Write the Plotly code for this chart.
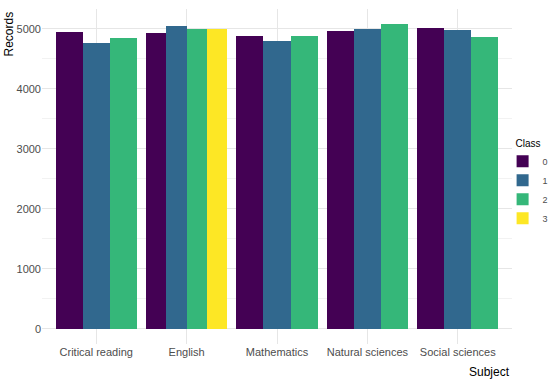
import plotly.graph_objects as go

subjects = ["Critical reading", "English", "Mathematics", "Natural sciences", "Social sciences"]
classes = ["0", "1", "2", "3"]
colors = ["#440154", "#31688E", "#35B779", "#FDE725"]

# records per class for each subject (None = class absent)
class0 = [4955, 4938, 4878, 4967, 5011]
class1 = [4761, 5055, 4805, 5005, 4983]
class2 = [4855, 4995, 4883, 5078, 4861]
class3 = [None, 4995, None, None, None]
series = [class0, class1, class2, class3]

FONT = "Liberation Sans, Arial, sans-serif"

# number of classes present per subject (ggplot dodge behaviour)
n_present = [sum(1 for s in series if s[i] is not None) for i in range(len(subjects))]
group_w = 0.9

fig = go.Figure()
for k, (cls, vals, col) in enumerate(zip(classes, series, colors)):
    xs, ys, ws, offs = [], [], [], []
    for i, v in enumerate(vals):
        if v is None:
            continue
        n = n_present[i]
        pos = sum(1 for j in range(k) if series[j][i] is not None)
        bw = group_w / n
        xs.append(subjects[i])
        ys.append(v)
        ws.append(bw)
        offs.append(-group_w / 2 + pos * bw)
    fig.add_trace(go.Bar(x=xs, y=ys, width=ws, offset=offs, name=cls,
                         marker=dict(color=col, line=dict(width=0))))

fig.update_layout(
    width=550, height=385,
    barmode="overlay",
    plot_bgcolor="white", paper_bgcolor="white",
    margin=dict(l=42, r=38, t=9, b=41, autoexpand=False),
    font=dict(family=FONT, size=11, color="#4d4d4d"),
    legend=dict(title=dict(text="Class", side="top center", font=dict(size=10, color="black")),
                font=dict(size=9, color="#4d4d4d"),
                x=0.98, xanchor="left", y=0.48, yanchor="middle",
                itemwidth=30, tracegroupgap=0, bgcolor="rgba(0,0,0,0)"),
    bargap=0,
)
fig.update_xaxes(type="category", categoryorder="array", categoryarray=subjects,
                 range=[-0.6, 4.6], showgrid=True, gridcolor="#e6e6e6", gridwidth=1,
                 showline=False, zeroline=False, ticks="", tickangle=0, automargin=False,
                 tickfont=dict(size=11, color="#4d4d4d"))
fig.update_yaxes(range=[-254, 5332], tickvals=[0, 1000, 2000, 3000, 4000, 5000],
                 showgrid=True, gridcolor="#e6e6e6", gridwidth=1,
                 minor=dict(tickvals=[500, 1500, 2500, 3500, 4500], showgrid=True, gridcolor="#f2f2f2", gridwidth=1),
                 zeroline=False, showline=False, ticks="", automargin=False,
                 tickfont=dict(size=11, color="#4d4d4d"))

fig.add_annotation(text="Records", xref="paper", yref="paper", x=0, y=1, xanchor="right", yanchor="top",
                   xshift=-25, yshift=-1, textangle=-90, showarrow=False,
                   font=dict(family=FONT, size=12, color="black"))
fig.add_annotation(text="Subject", xref="paper", yref="paper", x=1, y=0, xanchor="right", yanchor="top",
                   yshift=-19, showarrow=False, font=dict(family=FONT, size=12, color="black"))

fig.write_html("out.html", config={"displayModeBar": False},
               post_script="document.body.style.margin='0';")
